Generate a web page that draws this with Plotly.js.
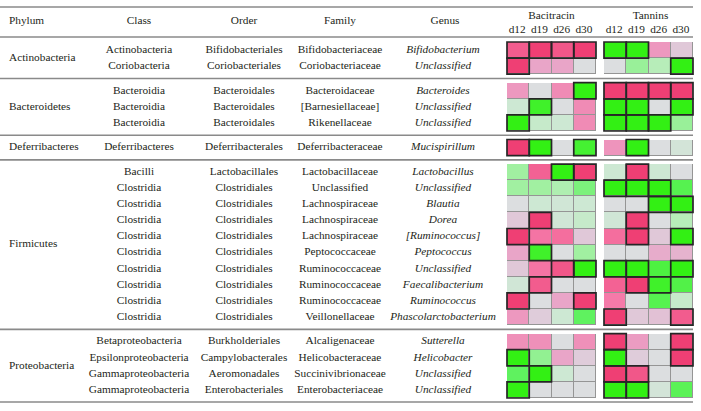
<!DOCTYPE html>
<html><head><meta charset="utf-8">
<script src="https://cdn.plot.ly/plotly-3.0.1.min.js"></script>
<style>html,body{margin:0;padding:0;background:#fff}#chart{width:701px;height:411px}</style>
</head><body><div id="chart"></div>
<script>
// ---------------- DATA ----------------
const phyla = ['Actinobacteria','Bacteroidetes','Deferribacteres','Firmicutes','Proteobacteria'];
const groupSizes = [2,3,1,10,4];
const classes = ['Actinobacteria','Coriobacteria',
  'Bacteroidia','Bacteroidia','Bacteroidia',
  'Deferribacteres',
  'Bacilli','Clostridia','Clostridia','Clostridia','Clostridia','Clostridia','Clostridia','Clostridia','Clostridia','Clostridia',
  'Betaproteobacteria','Epsilonproteobacteria','Gammaproteobacteria','Gammaproteobacteria'];
const orders = ['Bifidobacteriales','Coriobacteriales',
  'Bacteroidales','Bacteroidales','Bacteroidales',
  'Deferribacterales',
  'Lactobacillales','Clostridiales','Clostridiales','Clostridiales','Clostridiales','Clostridiales','Clostridiales','Clostridiales','Clostridiales','Clostridiales',
  'Burkholderiales','Campylobacterales','Aeromonadales','Enterobacteriales'];
const families = ['Bifidobacteriaceae','Coriobacteriaceae',
  'Bacteroidaceae','[Barnesiellaceae]','Rikenellaceae',
  'Deferribacteraceae',
  'Lactobacillaceae','Unclassified','Lachnospiraceae','Lachnospiraceae','Lachnospiraceae','Peptococcaceae','Ruminococcaceae','Ruminococcaceae','Ruminococcaceae','Veillonellaceae',
  'Alcaligenaceae','Helicobacteraceae','Succinivibrionaceae','Enterobacteriaceae'];
const genera = ['Bifidobacterium','Unclassified',
  'Bacteroides','Unclassified','Unclassified',
  'Mucispirillum',
  'Lactobacillus','Unclassified','Blautia','Dorea','[Ruminococcus]','Peptococcus','Unclassified','Faecalibacterium','Ruminococcus','Phascolarctobacterium',
  'Sutterella','Helicobacter','Unclassified','Unclassified'];
const treatments = ['Bacitracin','Tannins'];
const days = ['d12','d19','d26','d30'];
// change level per taxon and day (positive = pink/red, negative = green)
const bacitracin = [
  [2.5, 3, 2.6, 3],
  [3, 1, 1, 0],
  [1.3, 0, 1.6, -3],
  [-0.5, -2.7, 0, 1.6],
  [-3, -0.6, -0.5, 1.6],
  [3, -3, 0, -2.6],
  [-1.1, 2.4, -3, 3],
  [-1.1, -1.1, -0.9, -1.6],
  [0, -0.5, -0.4, -0.5],
  [0.5, 3, -0.4, -0.6],
  [3, 2.1, 2.2, 0.5],
  [1, -2.7, 0, -1.1],
  [0.5, 2.1, 2.6, -3],
  [-0.4, 2.5, 0, 0],
  [3, 0, 1, 3],
  [1.3, 0.4, -0.5, -2],
  [1.5, 1.5, 0, 1.5],
  [-3, -1.3, 1, 0.4],
  [-2, -3, -0.5, 0],
  [-3, 0, 0, 0]
];
const tannins = [
  [-3, -3, 1.3, 0.5],
  [0, -1.2, -0.8, -3],
  [3, 3, 3, 3],
  [-3, -3, 0, -3],
  [-3, -3, -3, -1.2],
  [1.4, -3, 0, -0.3],
  [-0.5, 3, -0.5, 0],
  [-3, -3, -3, -2.2],
  [0, 0, -3, -3],
  [-0.4, 3, 0, -0.8],
  [2.2, 3, 0.5, -3],
  [0, 0, 0.9, 0.8],
  [-3, -3, -2.4, -3],
  [2.4, 3, -2.7, -2.3],
  [2, 0, -2.2, -0.6],
  [3, 0.5, 0.6, 2.5],
  [3, 1.2, 0, 3],
  [-3, 0.4, 0, 3],
  [3, 2.6, 0, 0],
  [-3, -3, -0.3, -2.1]
];
// significant cells (outlined in bold)
const sigBacitracin = [
  [1,1,1,1],[1,0,0,0],[0,0,0,1],[0,1,0,0],[1,0,0,0],[1,1,0,1],[0,0,1,1],[0,0,0,0],[0,0,0,0],[0,1,0,0],
  [1,0,0,0],[0,1,0,0],[0,0,1,1],[0,1,0,0],[1,0,0,1],[0,0,0,0],[0,0,0,0],[1,0,0,0],[0,1,0,0],[1,0,0,0]
];
const sigTannins = [
  [1,1,0,0],[0,0,0,1],[1,1,1,1],[1,1,0,1],[1,1,1,0],[0,1,0,0],[0,1,0,0],[1,1,1,0],[0,0,1,1],[0,1,0,0],
  [0,1,0,1],[0,0,0,0],[1,1,0,1],[0,1,1,0],[0,0,0,0],[1,0,0,1],[1,0,0,1],[1,0,0,1],[1,1,0,0],[1,1,0,0]
];

// ---------------- LAYOUT CONSTANTS ----------------
const W = 701, H = 411;
const FONT = '"Liberation Serif", "Times New Roman", serif';
const FS = 11.3;
const TXT = '#231f20';
const firstTop = 42, pitch = 16.1, gap = 8.5;
const topLine = 7, headLine = 37, lineEnd = 693;
const colX = {phylum: 9, cls: 139, order: 244, family: 340, genus: 443};
const blockLeft = [507, 604], blockW = 89;

// row geometry
const rowCenters = [], yEdges = [], rowIsGap = [], sepYs = [];
let y = firstTop;
const groupCenters = [];
groupSizes.forEach((n, g) => {
  const gTop = y;
  for (let i = 0; i < n; i++) { yEdges.push(y); rowIsGap.push(false); rowCenters.push(y + pitch/2); y += pitch; }
  groupCenters.push((gTop + y) / 2);
  if (g < groupSizes.length - 1) { yEdges.push(y); rowIsGap.push(true); sepYs.push(y + gap/2); y += gap; }
});
yEdges.push(y);
const bottomLine = y + 4;

// column geometry
const xEdges = [], colMap = [];
const cellW = blockW / days.length;
blockLeft.forEach((bx, b) => {
  for (let d = 0; d < days.length; d++) { xEdges.push(bx + d*cellW); colMap.push([b, d]); }
  if (b < blockLeft.length - 1) { xEdges.push(bx + blockW); colMap.push(null); }
});
xEdges.push(blockLeft[blockLeft.length-1] + blockW);

const series = [bacitracin, tannins];
const sigs = [sigBacitracin, sigTannins];
let dataRow = 0;
const zMain = [], zBack = [];
rowIsGap.forEach(isGap => {
  if (isGap) { zMain.push(colMap.map(() => null)); zBack.push(colMap.map(() => null)); return; }
  const rr = dataRow++;
  zMain.push(colMap.map(c => c ? series[c[0]][rr][c[1]] : null));
  zBack.push(colMap.map(c => c ? 1 : null));
});

const cs = [
  [0, '#33f014'], [0.1667, '#5ff25f'], [0.3333, '#a8f0a8'], [0.4167, '#cde8d3'],
  [0.5, '#dcdee0'], [0.5833, '#e0c8d8'], [0.6667, '#e9a5c8'], [0.8333, '#f57aa9'], [1, '#ef3f74']
];

const traces = [
  {type: 'heatmap', x: xEdges, y: yEdges, z: zBack, zmin: 0, zmax: 1,
   colorscale: [[0, '#959595'], [1, '#959595']], showscale: false, hoverinfo: 'skip'},
  {type: 'heatmap', x: xEdges, y: yEdges, z: zMain, zmin: -3, zmax: 3,
   colorscale: cs, showscale: false, xgap: 1, ygap: 1}
];

function textTrace(xs, ys, texts, pos, italic) {
  return {type: 'scatter', mode: 'text', x: xs, y: ys, text: texts, textposition: pos,
    cliponaxis: false, hoverinfo: 'skip', showlegend: false,
    textfont: {family: FONT, size: FS, color: TXT, style: italic ? 'italic' : 'normal'}};
}
const rc = rowCenters;
traces.push(textTrace(phyla.map(() => colX.phylum), groupCenters, phyla, 'middle right'));
traces.push(textTrace(classes.map(() => colX.cls), rc, classes, 'middle center'));
traces.push(textTrace(orders.map(() => colX.order), rc, orders, 'middle center'));
traces.push(textTrace(families.map(() => colX.family), rc, families, 'middle center'));
traces.push(textTrace(genera.map(() => colX.genus), rc, genera, 'middle center', true));

// headers
const headY = 21;
const hdr = ['Phylum','Class','Order','Family','Genus'];
traces.push(textTrace([colX.phylum], [headY], [hdr[0]], 'middle right'));
traces.push(textTrace([colX.cls, colX.order, colX.family, colX.genus + 2], [headY,headY,headY,headY], hdr.slice(1), 'middle center'));
const trX = [], trY = [], dX = [], dY = [], dT = [];
blockLeft.forEach((bx, b) => {
  trX.push(bx + blockW/2 + b*2); trY.push(16);
  days.forEach((d, i) => { dX.push(bx + (i + 0.5)*cellW - 1); dY.push(30); dT.push(d); });
});
traces.push(textTrace(trX, trY, treatments, 'middle center'));
traces.push(textTrace(dX, dY, dT, 'middle center'));

// shapes: separator lines and significance outlines
const shapes = [];
const lineYs = [topLine, headLine].concat(sepYs, [bottomLine]);
lineYs.forEach(ly => shapes.push({type: 'line', xref: 'x', yref: 'y', x0: 0, x1: lineEnd, y0: ly, y1: ly,
  line: {color: '#8a8a8a', width: 1.6}}));
let dr = 0;
rowIsGap.forEach((isGap, ri) => {
  if (isGap) return;
  const rr = dr++;
  colMap.forEach((c, ci) => {
    if (!c) return;
    if (sigs[c[0]][rr][c[1]]) {
      shapes.push({type: 'rect', xref: 'x', yref: 'y', x0: xEdges[ci], x1: xEdges[ci+1], y0: yEdges[ri], y1: yEdges[ri+1],
        line: {color: '#262626', width: 1.7}, fillcolor: 'rgba(0,0,0,0)'});
    }
  });
});

const layout = {
  width: W, height: H, margin: {l: 0, r: 0, t: 0, b: 0},
  paper_bgcolor: '#fff', plot_bgcolor: '#fff', showlegend: false,
  xaxis: {range: [0, W], visible: false, fixedrange: true},
  yaxis: {range: [H, 0], visible: false, fixedrange: true},
  shapes: shapes,
  font: {family: FONT, color: TXT}
};
Plotly.newPlot('chart', traces, layout, {staticPlot: true});
</script></body></html>
